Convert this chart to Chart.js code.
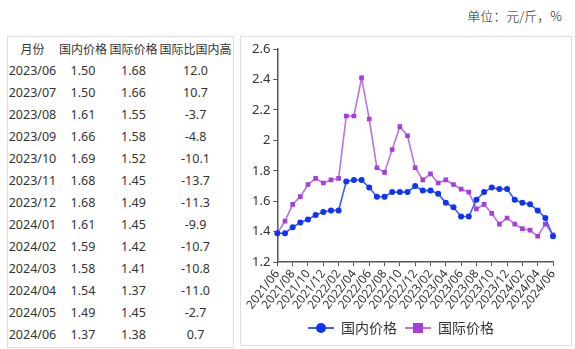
<!DOCTYPE html>
<html>
<head>
<meta charset="utf-8">
<script src="https://cdn.jsdelivr.net/npm/chart.js@4.4.1/dist/chart.umd.min.js"></script>
<style>
  body { margin: 0; background: #fff; font-family: "Noto Sans", "Noto Sans CJK SC", sans-serif; color: #333; }
  #unit { position: absolute; right: 13px; top: 6px; font-size: 13px; font-family: "Noto Sans CJK SC", sans-serif; font-weight: 300; color: #222; }
  #tableBox { position: absolute; left: 7px; top: 36px; width: 225px; height: 310px; border: 1px solid #ddd; }
  #tableBox table { border-collapse: collapse; table-layout: fixed; width: 225px; font-size: 12.5px; }
  #tableBox td, #tableBox th { height: 22px; padding: 0; text-align: center; font-weight: normal; white-space: nowrap; color: #333; }
  #tableBox th { font-family: "Noto Sans CJK SC", sans-serif; font-size: 12px; }
  #chartBox { position: absolute; left: 240px; top: 36px; width: 330px; height: 308px; border: 1px solid #ddd; }
</style>
</head>
<body>
<div id="unit">单位：元/斤，%</div>
<div id="tableBox"><table id="tbl"></table></div>
<div id="chartBox"><canvas id="myChart"></canvas></div>
<script>
// chart data, 2021/06 - 2024/06
const months = ['2021/06','2021/07','2021/08','2021/09','2021/10','2021/11','2021/12',
  '2022/01','2022/02','2022/03','2022/04','2022/05','2022/06','2022/07','2022/08','2022/09','2022/10','2022/11','2022/12',
  '2023/01','2023/02','2023/03','2023/04','2023/05','2023/06','2023/07','2023/08','2023/09','2023/10','2023/11','2023/12',
  '2024/01','2024/02','2024/03','2024/04','2024/05','2024/06'];
const domesticPrice = [1.39,1.39,1.43,1.46,1.48,1.51,1.53,1.54,1.54,1.73,1.74,1.74,1.69,1.63,1.63,1.66,1.66,1.66,1.70,
  1.67,1.67,1.65,1.59,1.56,1.50,1.50,1.61,1.66,1.69,1.68,1.68,1.61,1.59,1.58,1.54,1.49,1.37];
const intlPrice = [1.39,1.47,1.58,1.63,1.71,1.75,1.72,1.74,1.75,2.16,2.16,2.41,2.14,1.82,1.79,1.94,2.09,2.03,1.82,
  1.74,1.78,1.72,1.74,1.71,1.68,1.66,1.55,1.58,1.52,1.45,1.49,1.45,1.42,1.41,1.37,1.45,1.38];

// table data
const tableHeader = ['月份','国内价格','国际价格','国际比国内高'];
const tableMonths = ['2023/06','2023/07','2023/08','2023/09','2023/10','2023/11','2023/12','2024/01','2024/02','2024/03','2024/04','2024/05','2024/06'];
const tableDomestic = ['1.50','1.50','1.61','1.66','1.69','1.68','1.68','1.61','1.59','1.58','1.54','1.49','1.37'];
const tableIntl = ['1.68','1.66','1.55','1.58','1.52','1.45','1.49','1.45','1.42','1.41','1.37','1.45','1.38'];
const tableDiff = ['12.0','10.7','-3.7','-4.8','-10.1','-13.7','-11.3','-9.9','-10.7','-10.8','-11.0','-2.7','0.7'];

const blueLine = '#3a5cff', bluePoint = '#0f33f7';
const purpleLine = '#b772e6', purplePoint = '#a53fd9';

// build table
const tbl = document.getElementById('tbl');
let html = '<colgroup><col style="width:49px"><col style="width:52px"><col style="width:49px"><col style="width:75px"></colgroup><tr>';
tableHeader.forEach(h => html += '<th>' + h + '</th>');
html += '</tr>';
tableMonths.forEach((m, i) => {
  html += '<tr><td>' + m + '</td><td>' + tableDomestic[i] + '</td><td>' + tableIntl[i] + '</td><td>' + tableDiff[i] + '</td></tr>';
});
tbl.innerHTML = html;

// legend icon: line with marker
function legendIcon(lineColor, pointColor, square) {
  const c = document.createElement('canvas');
  c.width = 26; c.height = 12;
  const g = c.getContext('2d');
  g.strokeStyle = lineColor; g.lineWidth = 2;
  g.beginPath(); g.moveTo(0, 6); g.lineTo(26, 6); g.stroke();
  g.fillStyle = pointColor;
  if (square) { g.fillRect(8, 1, 10, 10); }
  else { g.beginPath(); g.arc(13, 6, 5, 0, Math.PI * 2); g.fill(); }
  return c;
}
const icons = [legendIcon(blueLine, bluePoint, false), legendIcon(purpleLine, purplePoint, true)];

const ctx = document.getElementById('myChart').getContext('2d');
const chart = new Chart(ctx, {
  type: 'line',
  data: {
    labels: months,
    datasets: [{
      label: '国内价格',
      data: domesticPrice,
      borderColor: blueLine,
      backgroundColor: bluePoint,
      pointBackgroundColor: bluePoint,
      pointBorderColor: bluePoint,
      pointRadius: 3,
      pointBorderWidth: 0,
      borderWidth: 1.6,
      tension: 0
    }, {
      label: '国际价格',
      data: intlPrice,
      borderColor: purpleLine,
      backgroundColor: purplePoint,
      pointBackgroundColor: purplePoint,
      pointBorderColor: purplePoint,
      pointStyle: 'rect',
      pointRadius: 3.3,
      pointBorderWidth: 0,
      borderWidth: 1.6,
      tension: 0
    }]
  },
  options: {
    responsive: true,
    maintainAspectRatio: false,
    animation: false,
    layout: { padding: { left: 8, right: 18, top: 12, bottom: 0 } },
    plugins: {
      tooltip: { enabled: false },
      legend: {
        position: 'bottom',
        labels: {
          usePointStyle: true,
          pointStyleWidth: 26,
          color: '#333',
          font: { size: 14, family: '"Noto Sans CJK SC", sans-serif' },
          padding: 8,
          generateLabels: (ch) => ch.data.datasets.map((ds, i) => ({
            text: ds.label,
            pointStyle: icons[i],
            fillStyle: ds.backgroundColor,
            strokeStyle: ds.borderColor,
            lineWidth: 0,
            hidden: false,
            datasetIndex: i,
            fontColor: '#333'
          }))
        }
      }
    },
    scales: {
      x: {
        grid: { drawOnChartArea: false, drawTicks: true, tickLength: 4, color: '#555' },
        border: { display: true, color: '#555', width: 1.5 },
        ticks: {
          autoSkip: false,
          maxRotation: 52,
          minRotation: 52,
          padding: 1,
          color: '#333',
          font: { size: 12, family: '"Noto Sans", sans-serif' },
          callback: function (v, i) { return i % 2 === 0 ? months[i] : null; }
        }
      },
      y: {
        min: 1.2,
        max: 2.6,
        grid: { drawOnChartArea: false, drawTicks: true, tickLength: 4, color: '#555' },
        border: { display: true, color: '#555', width: 1.5 },
        ticks: {
          stepSize: 0.2,
          padding: 3,
          color: '#333',
          font: { size: 13, family: '"Noto Sans", sans-serif' },
          callback: v => String(+v.toFixed(1))
        }
      }
    }
  }
});
</script>
</body>
</html>
